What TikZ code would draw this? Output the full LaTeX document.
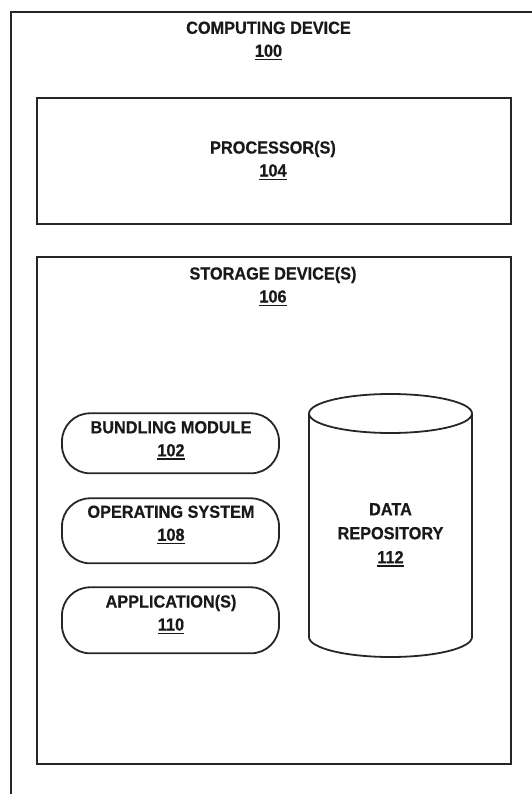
\documentclass[tikz,border=0pt]{standalone}
\usepackage{fontspec}
\setmainfont{Liberation Sans}[FakeStretch=0.93, BoldFeatures={FakeBold=0.6}]
\newsavebox\refnumbox
% underlined reference numeral
\newcommand\refnum[1]{\sbox\refnumbox{#1}\rlap{\rule[-3.6pt]{\wd\refnumbox}{1.5pt}}\usebox\refnumbox}
\tikzset{
  frame/.style={draw=black!85, line width=2pt, inner sep=0pt},
  pill/.style={draw=black!85, line width=1.8pt, rounded corners=28pt,
    minimum width=217pt, inner sep=0pt},
  cyl/.style={draw=black!85, line width=1.8pt},
  lbl/.style={align=center, inner sep=0pt, text=black!90,
    font=\fontsize{17.5}{23}\selectfont\bfseries},
}
\begin{document}
\begin{tikzpicture}[x=1pt, y=-1pt]
  \clip (0,0) rectangle (532,794);
  % outer device frame (runs past the right and bottom edges)
  \node[frame, anchor=north west, minimum width=560pt, minimum height=820pt] (device) at (9.5,11) {};
  \node[lbl] (device-lbl) at (268.5,41) {COMPUTING DEVICE\\\refnum{100}};

  % processor
  \node[frame, minimum width=474.5pt, minimum height=125.7pt] (proc) at (273.75,160.85) {};
  \node[lbl] (proc-lbl) at (273,160.5) {PROCESSOR(S)\\\refnum{104}};

  % storage
  \node[frame, minimum width=474.5pt, minimum height=507pt] (store) at (273.75,510.5) {};
  \node[lbl] (store-lbl) at (273,286.5) {STORAGE DEVICE(S)\\\refnum{106}};

  % software modules
  \node[pill, minimum height=60pt] (bundle) at (170.5,443.3) {};
  \node[lbl] (bundle-lbl) at (171,440.5) {BUNDLING MODULE\\\refnum{102}};
  \node[pill, minimum height=65pt] (os) at (170.5,530.8) {};
  \node[lbl] (os-lbl) at (171,525) {OPERATING SYSTEM\\\refnum{108}};
  \node[pill, minimum height=66pt] (apps) at (170.5,620.3) {};
  \node[lbl] (apps-lbl) at (171,614.5) {APPLICATION(S)\\\refnum{110}};

  % data repository cylinder
  \draw[cyl] (309,413.5) -- (309,637)
    arc[start angle=180, end angle=0, x radius=81.5, y radius=20] -- (472,413.5);
  \draw[cyl] (390.5,413.5) ellipse [x radius=81.5, y radius=19.5];
  \node[lbl, font=\fontsize{17.5}{24}\selectfont\bfseries] (repo) at (390.5,535) {DATA\\REPOSITORY\\\refnum{112}};
\end{tikzpicture}
\end{document}
